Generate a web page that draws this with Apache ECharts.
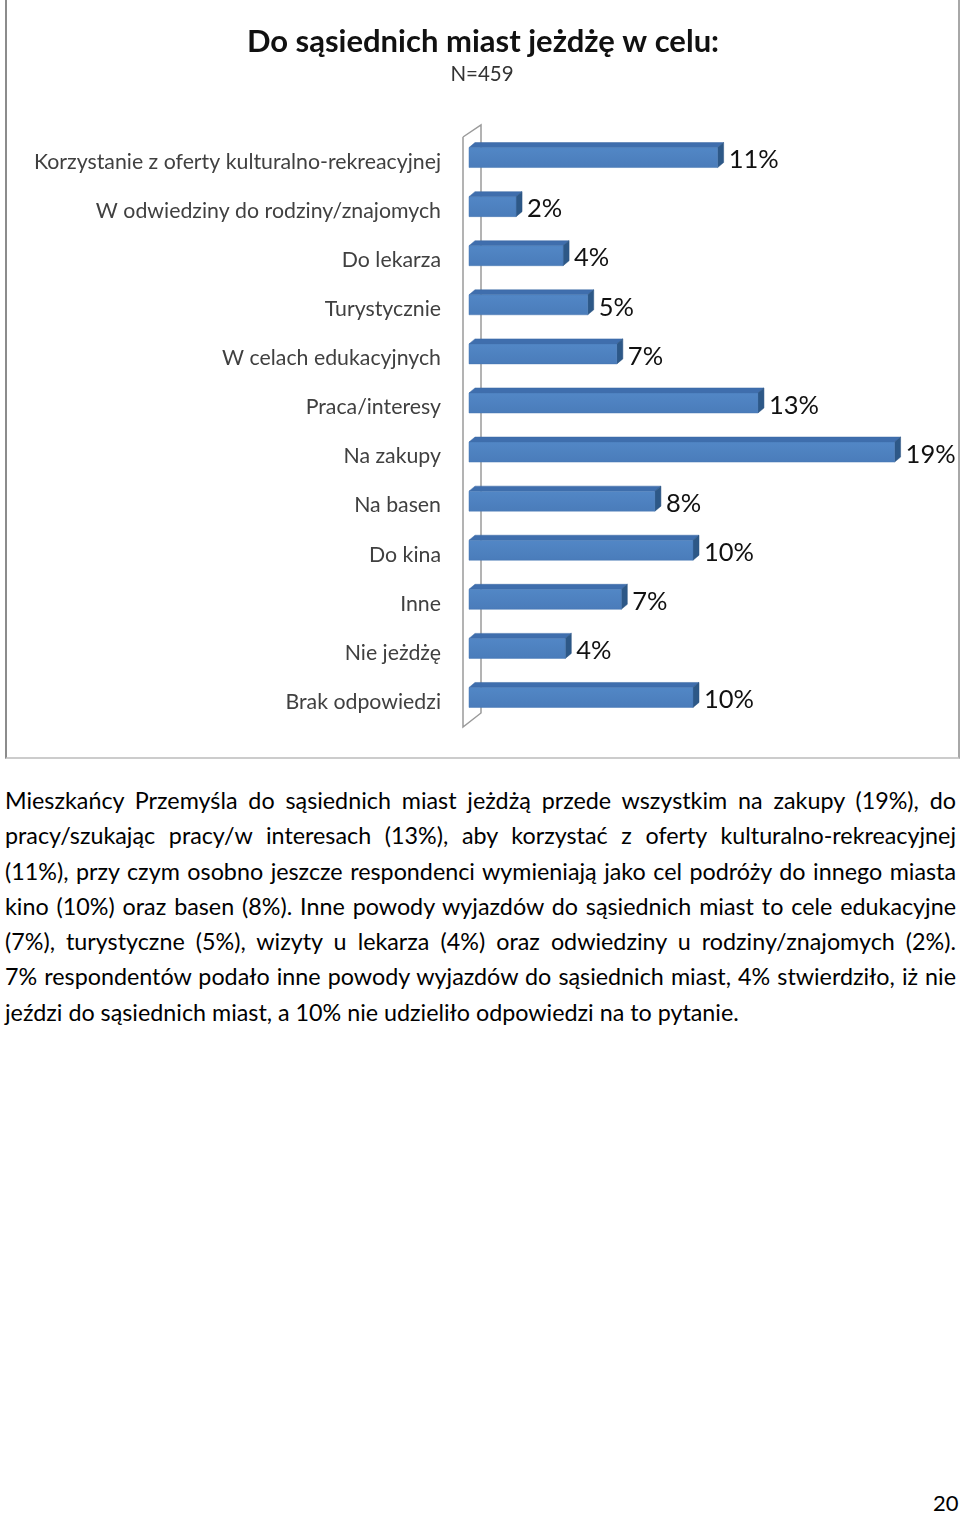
<!DOCTYPE html>
<html>
<head>
<meta charset="utf-8">
<script src="https://cdn.jsdelivr.net/npm/echarts@6/dist/echarts.min.js"></script>
<style>
  html, body { margin: 0; padding: 0; background: #fff; }
  body { width: 960px; height: 1513px; position: relative; overflow: hidden; font-family: Lato, "Open Sans", sans-serif; }
  #chart { position: absolute; left: 0; top: 0; width: 960px; height: 762px; }
  #frame { position: absolute; left: 5px; top: -2px; width: 951px; height: 759px;
    border-left: 2px solid #8c8c8c; border-right: 2px solid #a8a8a8; border-bottom: 2px solid #cccccc; pointer-events: none; }
  #para { position: absolute; left: 5px; top: 783px; width: 951px; font-size: 23px; line-height: 35.3px; color: #000; }
  #para .ln { white-space: nowrap; text-align: justify; text-align-last: justify; }
  #para .ln.last { text-align-last: left; }
  #page { position: absolute; left: 933px; top: 1489px; font-size: 22px; color: #000; }
</style>
</head>
<body>
<div id="chart"></div>
<div id="frame"></div>
<div id="para"></div>
<div id="page">20</div>
<script>
const titleText = 'Do sąsiednich miast jeżdżę w celu:';
const subtitleText = 'N=459';
const categories = [
  'Korzystanie z oferty kulturalno-rekreacyjnej',
  'W odwiedziny do rodziny/znajomych',
  'Do lekarza',
  'Turystycznie',
  'W celach edukacyjnych',
  'Praca/interesy',
  'Na zakupy',
  'Na basen',
  'Do kina',
  'Inne',
  'Nie jeżdżę',
  'Brak odpowiedzi'
];
const values = [11.1, 2.1, 4.2, 5.3, 6.6, 12.9, 19.0, 8.3, 10.0, 6.8, 4.3, 10.0];
const paragraphLines = [
  'Mieszkańcy Przemyśla do sąsiednich miast jeżdżą przede wszystkim na zakupy (19%), do',
  'pracy/szukając pracy/w interesach (13%), aby korzystać z oferty kulturalno-rekreacyjnej',
  '(11%), przy czym osobno jeszcze respondenci wymieniają jako cel podróży do innego miasta',
  'kino (10%) oraz basen (8%). Inne powody wyjazdów do sąsiednich miast to cele edukacyjne',
  '(7%), turystyczne (5%), wizyty u lekarza (4%) oraz odwiedziny u rodziny/znajomych (2%).',
  '7% respondentów podało inne powody wyjazdów do sąsiednich miast, 4% stwierdziło, iż nie',
  'jeździ do sąsiednich miast, a 10% nie udzieliło odpowiedzi na to pytanie.'
];

// fit paragraph font so that the unjustified last line spans ~735px, without overflowing
(function () {
  const c = document.createElement('canvas').getContext('2d');
  c.font = '100px Lato';
  const widths = paragraphLines.map(t => c.measureText(t).width);
  let fs = 100 * 735 / widths[widths.length - 1];
  const maxW = Math.max.apply(null, widths.slice(0, -1));
  fs = Math.min(fs, 100 * 940 / maxW);
  document.getElementById('para').style.fontSize = fs.toFixed(2) + 'px';
})();

const para = document.getElementById('para');
paragraphLines.forEach((t, i) => {
  const d = document.createElement('div');
  d.className = 'ln' + (i === paragraphLines.length - 1 ? ' last' : '');
  d.textContent = t;
  para.appendChild(d);
});

const chart = echarts.init(document.getElementById('chart'), null, { renderer: 'canvas' });
const DX = 6, DY = -5, BAR_H = 20;

chart.setOption({
  animation: false,
  grid: { left: 469, width: 448, top: 133, height: 589 },
  xAxis: { type: 'value', min: 0, max: 20, show: false },
  yAxis: {
    type: 'category',
    data: categories,
    inverse: true,
    axisLine: { show: false },
    axisTick: { show: false },
    splitLine: { show: false },
    axisLabel: { show: false }
  },
  graphic: [{
    type: 'text', x: 483, y: 41.5,
    style: { text: titleText, fontFamily: 'Lato', fontWeight: 'bold', fontSize: 31, fill: '#111', align: 'center', verticalAlign: 'middle' }
  }, {
    type: 'text', x: 482, y: 74,
    style: { text: subtitleText, fontFamily: 'Lato', fontSize: 20.5, fill: '#333', align: 'center', verticalAlign: 'middle' }
  }, {
    type: 'polyline',
    shape: { points: [[463, 137], [463, 727], [481, 713], [481, 125], [463, 137]] },
    style: { stroke: '#9a9a9a', lineWidth: 1.5, fill: null },
    z: 1
  }],
  series: [{
    type: 'custom',
    data: values.map((v, i) => [v, i]),
    encode: { x: 0, y: 1 },
    z: 5,
    renderItem: function (params, api) {
      const v = api.value(0);
      const idx = api.value(1);
      const p0 = api.coord([0, idx]);
      const p1 = api.coord([v, idx]);
      const x0 = p0[0], x1 = p1[0];
      const yT = p0[1] - BAR_H / 2, yB = p0[1] + BAR_H / 2;
      return {
        type: 'group',
        children: [
          { type: 'polygon', shape: { points: [[x0, yT], [x0 + DX, yT + DY], [x1 + DX, yT + DY], [x1, yT]] },
            style: { fill: '#3f6ead', stroke: '#3a68a4', lineWidth: 0.5 } },
          { type: 'polygon', shape: { points: [[x1, yT], [x1 + DX, yT + DY], [x1 + DX, yB + DY], [x1, yB]] },
            style: { fill: '#2d5887', stroke: '#2a5380', lineWidth: 0.5 } },
          { type: 'rect', shape: { x: x0, y: yT, width: x1 - x0, height: BAR_H },
            style: { fill: new echarts.graphic.LinearGradient(0, 0, 0, 1, [
              { offset: 0, color: '#5287c6' }, { offset: 1, color: '#4a7cba' }]), stroke: '#4677b3', lineWidth: 0.5 } },
          { type: 'text', x: x1 + DX + 5, y: p0[1] + 2.5,
            style: { text: Math.round(v) + '%', fontFamily: 'Lato', fontSize: 25.5, fill: '#111', verticalAlign: 'middle', align: 'left' } },
          { type: 'text', x: x0 - 28, y: p0[1] + 4.5,
            style: { text: categories[idx], fontFamily: 'Lato', fontSize: 21.3, fill: '#404040', verticalAlign: 'middle', align: 'right' } }
        ]
      };
    }
  }]
});
</script>
</body>
</html>
